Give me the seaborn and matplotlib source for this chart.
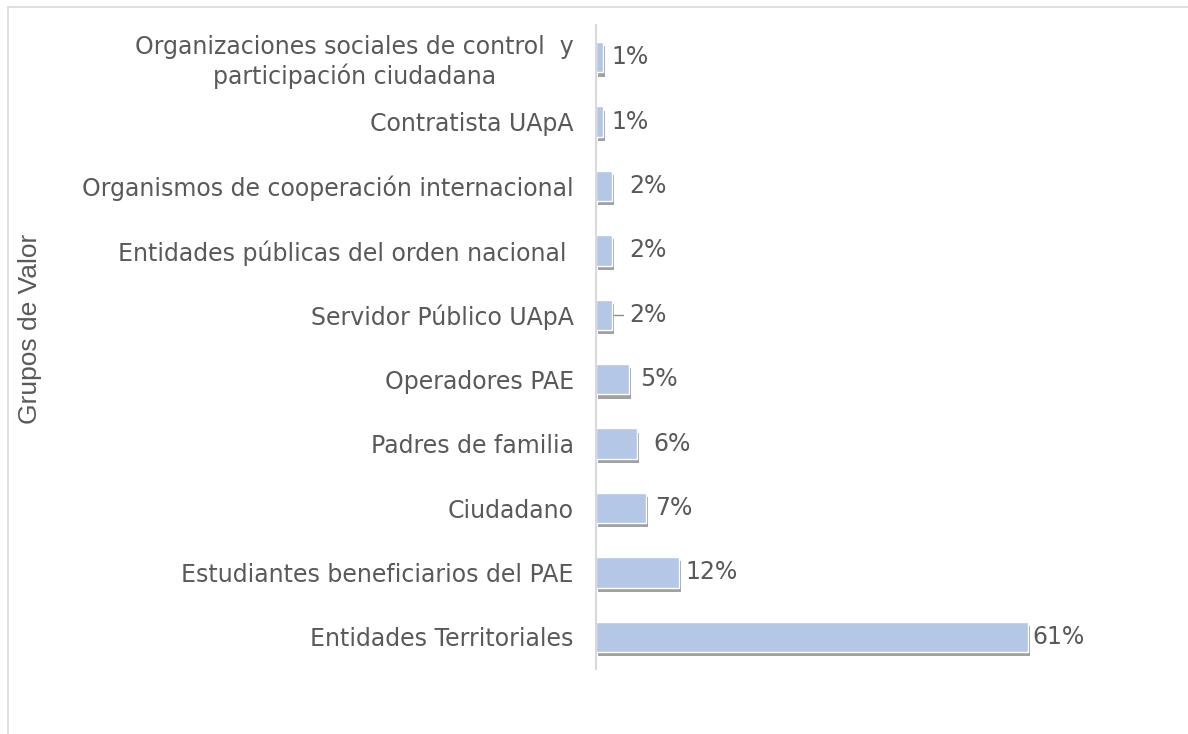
import matplotlib
matplotlib.use("Agg")
import matplotlib.pyplot as plt
import matplotlib.patheffects as pe
from matplotlib.lines import Line2D
import seaborn as sns
import pandas as pd

categories = [
    "Organizaciones sociales de control  y\nparticipación ciudadana",
    "Contratista UApA",
    "Organismos de cooperación internacional",
    "Entidades públicas del orden nacional ",
    "Servidor Público UApA",
    "Operadores PAE",
    "Padres de familia",
    "Ciudadano",
    "Estudiantes beneficiarios del PAE",
    "Entidades Territoriales",
]
values = [1.0, 1.0, 2.2, 2.2, 2.2, 4.7, 5.8, 7.0, 11.7, 61.0]
value_labels = ["1%", "1%", "2%", "2%", "2%", "5%", "6%", "7%", "12%", "61%"]
label_pad = [6, 6, 13, 13, 13, 8, 12, 7, 5, 3]
y_title = "Grupos de Valor"

df = pd.DataFrame({"grupo": categories, "valor": values})

sns.set_theme(style="white")
plt.rcParams["font.family"] = ["DejaVu Sans"]

text_color = "#595959"
bar_color = "#B4C7E7"
fs = 17

fig = plt.figure(figsize=(11.88, 7.34), dpi=100)
ax = fig.add_axes([596 / 1188, 65 / 734, 495.7 / 1188, 644 / 734])

sns.barplot(data=df, x="valor", y="grupo", color=bar_color, width=0.47,
            saturation=1, ax=ax)

for p in ax.patches:
    p.set_path_effects([pe.SimplePatchShadow(offset=(1.5, -3), shadow_rgbFace="#555555", alpha=0.55),
                        pe.Normal()])

ax.set_xlim(0, 70)
ax.set_ylim(len(categories) - 0.5, -0.5)

for i, (v, lab, pad) in enumerate(zip(values, value_labels, label_pad)):
    ax.annotate(lab, xy=(v, i), xytext=(pad, 0), textcoords="offset points",
                va="center", ha="left", fontsize=fs, color=text_color)

# leader line for Servidor Público UApA
si = categories.index("Servidor Público UApA")
ax.plot([values[si] + 0.3, values[si] + 1.6], [si, si], color="#8C8C8C", lw=1)

ax.set_xticks([])
ax.set_xlabel("")
ax.set_ylabel(y_title, fontsize=19, color=text_color, family=["Liberation Sans"])
ax.tick_params(axis="y", length=0, pad=16, labelsize=fs, labelcolor=text_color)

for t in ax.get_yticklabels():
    if "\n" in t.get_text():
        t.set_multialignment("center")

for s in ["top", "right", "bottom"]:
    ax.spines[s].set_visible(False)
ax.spines["left"].set_color("#D9D9D9")
ax.spines["left"].set_linewidth(1.5)

ax.yaxis.set_label_coords(42 / 1188, 1 - 329 / 734, transform=fig.transFigure)

# chart border (partially cropped)
fig.add_artist(Line2D([8 / 1188, 1.0], [1 - 7 / 734, 1 - 7 / 734], color="#D9D9D9", lw=1.2,
                      transform=fig.transFigure))
fig.add_artist(Line2D([8 / 1188, 8 / 1188], [0, 1 - 7 / 734], color="#D9D9D9", lw=1.2,
                      transform=fig.transFigure))

fig.savefig("out.png", dpi=100)
